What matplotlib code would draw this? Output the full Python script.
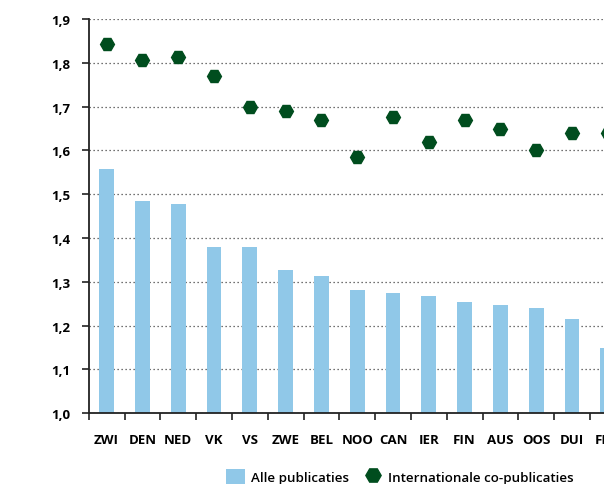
import matplotlib
matplotlib.use("Agg")
import matplotlib.pyplot as plt
import numpy as np
from matplotlib.lines import Line2D
from matplotlib.patches import Patch

categories = ["ZWI", "DEN", "NED", "VK", "VS", "ZWE", "BEL", "NOO", "CAN",
              "IER", "FIN", "AUS", "OOS", "DUI", "FRA"]
alle_publicaties = [1.558, 1.485, 1.478, 1.379, 1.379, 1.326, 1.314, 1.281,
                    1.275, 1.267, 1.255, 1.247, 1.241, 1.215, 1.149]
internationale_co = [1.843, 1.806, 1.813, 1.769, 1.700, 1.690, 1.670, 1.586,
                     1.676, 1.619, 1.670, 1.650, 1.600, 1.640, 1.640]
yticks = [1.0, 1.1, 1.2, 1.3, 1.4, 1.5, 1.6, 1.7, 1.8, 1.9]
ytick_labels = ["1,0", "1,1", "1,2", "1,3", "1,4", "1,5", "1,6", "1,7", "1,8", "1,9"]

BAR = "#90c8e8"
GREEN = "#004d1e"
FONT = "Open Sans"

fig = plt.figure(figsize=(6.04, 4.85), dpi=100)
ax = fig.add_axes([88.7/604, 1-414.3/485, (625.7-88.7)/604, (414.3-20)/485])

x = np.arange(len(categories))
ax.bar(x, [v - 1.0 for v in alle_publicaties], bottom=1.0, width=0.41,
       color=BAR, zorder=2)
ax.plot(x, internationale_co, linestyle="none", marker="H", markersize=10,
        color=GREEN, markeredgecolor=GREEN, zorder=3)

ax.set_xlim(-0.5, len(categories) - 0.5)
ax.set_ylim(1.0, 1.9)
ax.set_yticks(yticks)
ax.set_yticklabels(ytick_labels, fontfamily=FONT, fontweight="bold", fontsize=9.5)
ax.set_xticks(x)
ax.set_xticklabels(categories, fontfamily=FONT, fontweight="bold", fontsize=9.5)
ax.set_xticks(np.arange(-0.5, len(categories), 1.0), minor=True)
ax.tick_params(axis="x", which="major", length=0, pad=14)
ax.tick_params(axis="x", which="minor", length=5, width=1.2, color="#222222")
ax.tick_params(axis="y", length=5, width=1.2, color="#222222", pad=8)

ax.grid(axis="y", linestyle=(0, (1, 2.2)), color="#444444", linewidth=0.9, zorder=1)
ax.set_axisbelow(True)
for s in ["top", "right"]:
    ax.spines[s].set_visible(False)
for s in ["left", "bottom"]:
    ax.spines[s].set_linewidth(1.3)
    ax.spines[s].set_color("#222222")
    ax.spines[s].set_zorder(4)

handles = [Patch(facecolor=BAR, edgecolor="none"),
           Line2D([], [], linestyle="none", marker="H", markersize=11,
                  color=GREEN)]
fig.legend(handles, ["Alle publicaties", "Internationale co-publicaties"],
           loc="center", bbox_to_anchor=(0.662, 0.016), ncol=2, frameon=False,
           prop={"family": FONT, "size": 9.6, "weight": 600}, handlelength=1.4,
           handleheight=1.4, handletextpad=0.45, columnspacing=1.1, borderaxespad=0)

fig.savefig("out.png", dpi=100)
